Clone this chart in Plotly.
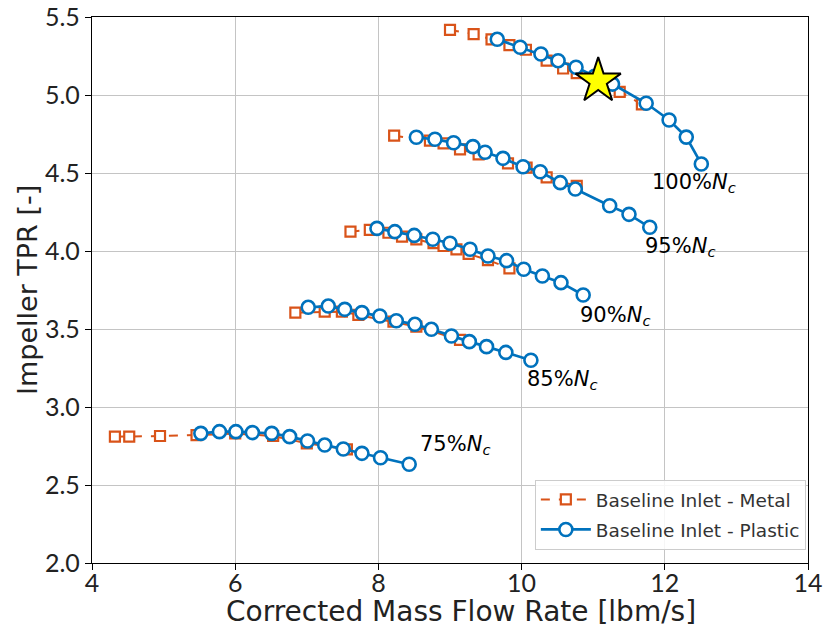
import plotly.graph_objects as go

# ---- data ----
metal_100_x = [9.00, 9.33, 9.58, 9.83, 10.06, 10.35, 10.58, 10.77, 11.02, 11.37, 11.68]
metal_100_y = [5.417, 5.39, 5.357, 5.32, 5.29, 5.22, 5.17, 5.14, 5.09, 5.02, 4.94]
plastic_100_x = [9.66, 9.98, 10.27, 10.51, 10.76, 11.02, 11.27, 11.74, 12.06, 12.30, 12.51]
plastic_100_y = [5.357, 5.306, 5.263, 5.22, 5.178, 5.12, 5.07, 4.947, 4.84, 4.73, 4.558]

metal_95_x = [8.22, 8.72, 8.91, 9.14, 9.40, 9.81, 10.07, 10.35, 10.77]
metal_95_y = [4.739, 4.707, 4.69, 4.652, 4.62, 4.562, 4.534, 4.472, 4.417]
plastic_95_x = [8.53, 8.79, 9.05, 9.32, 9.49, 9.74, 10.02, 10.26, 10.54, 10.75, 11.23, 11.50, 11.79]
plastic_95_y = [4.729, 4.716, 4.694, 4.669, 4.633, 4.594, 4.54, 4.508, 4.438, 4.397, 4.29, 4.235, 4.152]

metal_90_x = [7.61, 7.88, 8.14, 8.33, 8.53, 8.77, 8.91, 9.09, 9.26, 9.53, 9.83]
metal_90_y = [4.124, 4.135, 4.117, 4.092, 4.075, 4.05, 4.032, 4.011, 3.981, 3.942, 3.889]
plastic_90_x = [7.98, 8.23, 8.50, 8.76, 9.00, 9.28, 9.53, 9.79, 10.03, 10.29, 10.55, 10.86]
plastic_90_y = [4.145, 4.124, 4.10, 4.075, 4.05, 4.011, 3.968, 3.938, 3.883, 3.84, 3.797, 3.718]

metal_85_x = [6.84, 7.25, 7.49, 7.72, 8.21, 8.53, 9.14]
metal_85_y = [3.605, 3.611, 3.611, 3.59, 3.547, 3.515, 3.43]
plastic_85_x = [7.02, 7.30, 7.53, 7.77, 8.02, 8.25, 8.51, 8.74, 9.02, 9.27, 9.51, 9.78, 10.13]
plastic_85_y = [3.639, 3.647, 3.626, 3.605, 3.583, 3.553, 3.53, 3.498, 3.455, 3.419, 3.387, 3.35, 3.30]

metal_75_x = [4.32, 4.52, 4.95, 5.46, 6.00, 6.53, 7.00, 7.56]
metal_75_y = [2.81, 2.81, 2.814, 2.82, 2.83, 2.814, 2.767, 2.729]
plastic_75_x = [5.52, 5.78, 6.01, 6.24, 6.51, 6.76, 7.01, 7.25, 7.51, 7.77, 8.03, 8.43]
plastic_75_y = [2.831, 2.842, 2.842, 2.836, 2.831, 2.81, 2.782, 2.756, 2.731, 2.703, 2.675, 2.633]

design_x = [11.07]
design_y = [5.09]

speed_labels = ["100%", "95%", "90%", "85%", "75%"]
label_x = [11.79, 11.70, 10.79, 10.05, 8.55]
label_y = [4.436, 4.026, 3.583, 3.173, 2.756]

x_ticks = [4, 6, 8, 10, 12, 14]
y_ticks = [2.0, 2.5, 3.0, 3.5, 4.0, 4.5, 5.0, 5.5]

x_title = "Corrected Mass Flow Rate [lbm/s]"
y_title = "Impeller TPR [-]"

ORANGE = "#D95319"
BLUE = "#0072BD"
TICK_FONT = "Lato, Open Sans, sans-serif"
TITLE_FONT = "DejaVu Sans, sans-serif"

fig = go.Figure()

metal = [(metal_100_x, metal_100_y), (metal_95_x, metal_95_y), (metal_90_x, metal_90_y),
         (metal_85_x, metal_85_y), (metal_75_x, metal_75_y)]
plastic = [(plastic_100_x, plastic_100_y), (plastic_95_x, plastic_95_y), (plastic_90_x, plastic_90_y),
           (plastic_85_x, plastic_85_y), (plastic_75_x, plastic_75_y)]

for i, (mx, my) in enumerate(metal):
    fig.add_trace(go.Scatter(
        x=mx, y=my, mode="lines+markers",
        name="Baseline Inlet - Metal", legendgroup="metal", showlegend=(i == 0),
        line=dict(color=ORANGE, width=2, dash="dash"),
        marker=dict(symbol="square", size=10, color="white",
                    line=dict(color=ORANGE, width=2.2)),
    ))

for i, (px, py) in enumerate(plastic):
    fig.add_trace(go.Scatter(
        x=px, y=py, mode="lines+markers",
        name="Baseline Inlet - Plastic", legendgroup="plastic", showlegend=(i == 0),
        line=dict(color=BLUE, width=2.7),
        marker=dict(symbol="circle", size=13, color="white",
                    line=dict(color=BLUE, width=2.6)),
    ))

fig.add_trace(go.Scatter(
    x=design_x, y=design_y, mode="markers", showlegend=False,
    marker=dict(symbol="star", size=34, color="#FFFF00", line=dict(color="black", width=2)),
))

for lab, lx, ly in zip(speed_labels, label_x, label_y):
    fig.add_annotation(
        x=lx, y=ly, xref="x", yref="y", xanchor="left", yanchor="middle",
        text=lab + "<i>N<sub>c</sub></i>", showarrow=False,
        font=dict(family="DejaVu Sans", size=21, color="black"),
    )

# axis titles
fig.add_annotation(
    x=0.515, y=-0.0897, xref="paper", yref="paper", xanchor="center", yanchor="middle",
    text=x_title, showarrow=False,
    font=dict(family=TITLE_FONT, size=28, color="#222222"),
)
fig.add_annotation(
    x=-0.0908, y=0.5, xref="paper", yref="paper", xanchor="center", yanchor="middle",
    text=y_title, showarrow=False, textangle=-90,
    font=dict(family=TITLE_FONT, size=27, color="#222222"),
)

fig.update_layout(
    width=836, height=633,
    margin=dict(l=92, r=28, t=17, b=70, autoexpand=False),
    paper_bgcolor="white", plot_bgcolor="white",
    showlegend=True,
    legend=dict(
        x=0.997, y=0.024, xanchor="right", yanchor="bottom",
        bgcolor="rgba(255,255,255,0.85)", bordercolor="#cccccc", borderwidth=1,
        font=dict(family=TITLE_FONT, size=18.5, color="#333333"),
        itemwidth=50, tracegroupgap=3,
    ),
)

fig.update_xaxes(
    range=[4, 14], tickvals=x_ticks, ticktext=[str(v) for v in x_ticks],
    showgrid=True, gridcolor="#c4c4c4", gridwidth=1.3,
    showline=True, linecolor="black", linewidth=1.3, mirror=True,
    ticks="outside", ticklen=6, tickcolor="black", ticklabelstandoff=-8,
    ticklabeloverflow="allow",
    tickfont=dict(family=TICK_FONT, size=25, color="#222222"),
    zeroline=False, automargin=False,
)
fig.update_yaxes(
    range=[2.0, 5.5], tickvals=y_ticks, ticktext=[f"{v:.1f}" for v in y_ticks],
    showgrid=True, gridcolor="#c4c4c4", gridwidth=1.3,
    showline=True, linecolor="black", linewidth=1.3, mirror=True,
    ticks="outside", ticklen=6, tickcolor="black",
    ticklabeloverflow="allow",
    tickfont=dict(family=TICK_FONT, size=25, color="#222222"),
    zeroline=False, automargin=False,
)

fig.write_html("out.html", config={"displayModeBar": False},
               post_script="document.body.style.margin='0';")
